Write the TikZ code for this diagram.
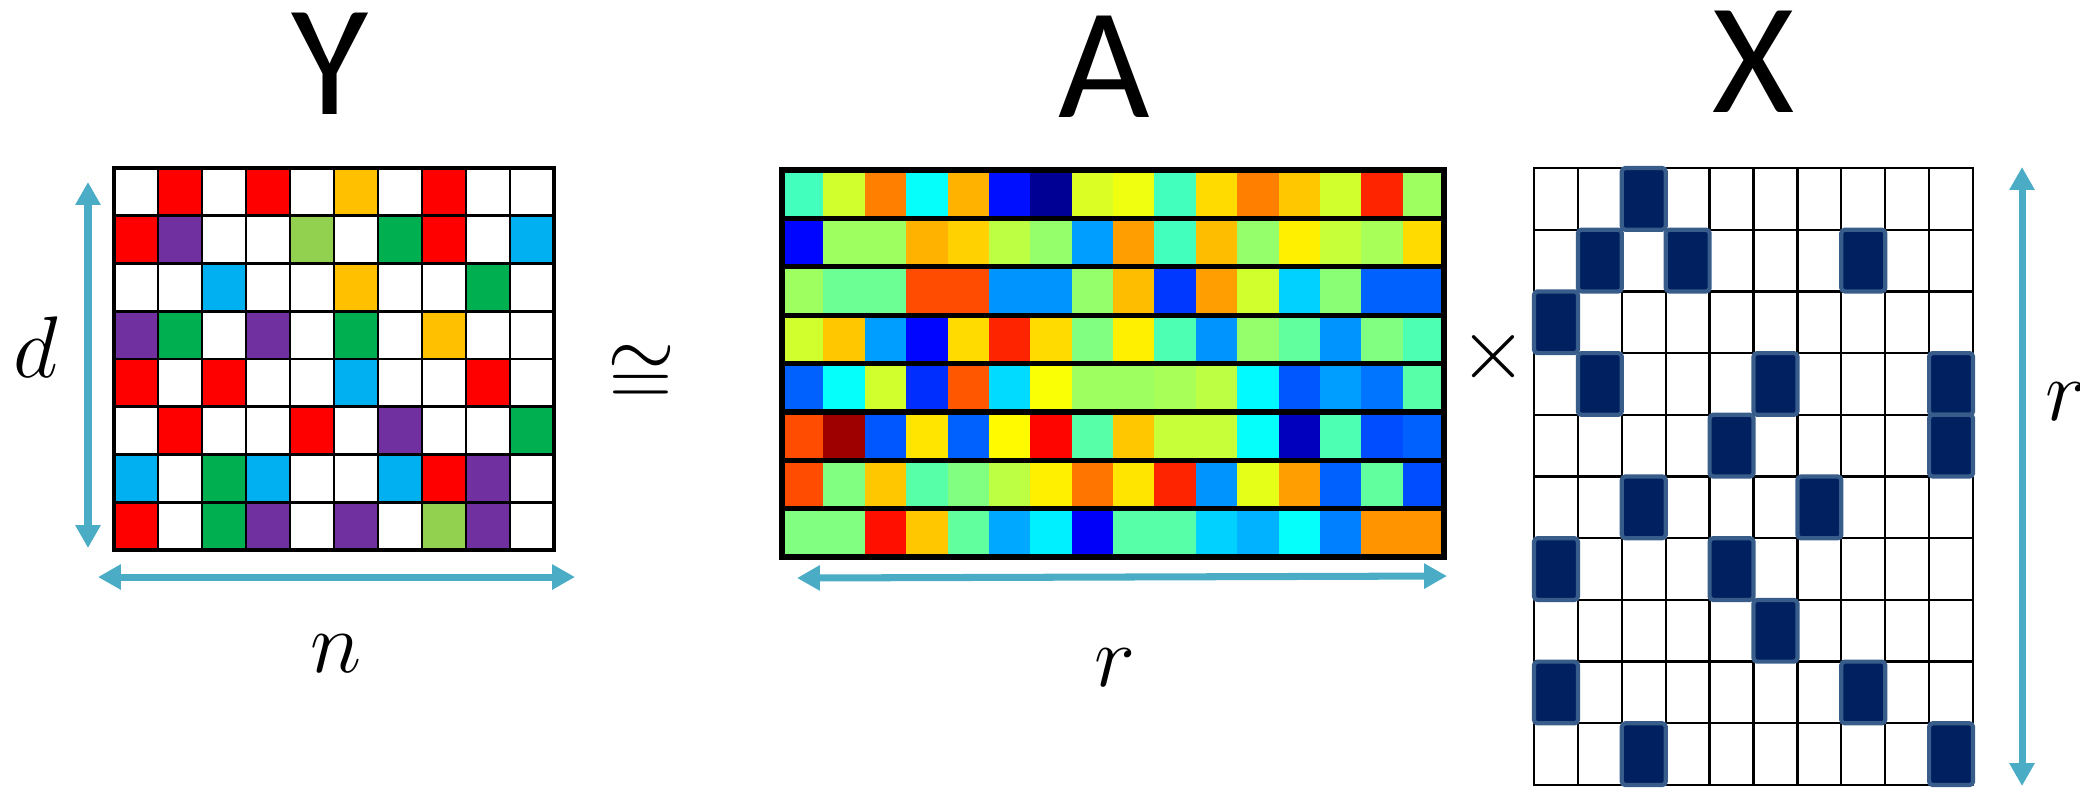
\documentclass[tikz,border=0pt]{standalone}
\usepackage{fontspec}
\newfontfamily\headfont{Carlito}
\usetikzlibrary{arrows.meta}
\definecolor{ink}{HTML}{000000}
\definecolor{arrowblue}{HTML}{4BACC6}
\definecolor{yw}{HTML}{FFFFFF}
\definecolor{yr}{HTML}{FF0000}
\definecolor{yp}{HTML}{7030A0}
\definecolor{yo}{HTML}{FFC000}
\definecolor{yl}{HTML}{92D050}
\definecolor{yg}{HTML}{00B050}
\definecolor{yb}{HTML}{00B0F0}
\definecolor{navy}{HTML}{002060}
\definecolor{navyedge}{HTML}{385D8A}
\tikzset{
  mattitle/.style={font=\headfont\fontsize{45}{50}\selectfont,anchor=base,inner sep=0pt,text=ink},
  dimlabel/.style={font=\fontsize{26}{30}\selectfont,inner sep=0pt,text=ink},
  opsign/.style={inner sep=0pt,text=ink},
  dimarrow/.style={{Triangle[width=6.8pt,length=6.5pt]}-{Triangle[width=6.8pt,length=6.5pt]},line width=2pt,draw=arrowblue},
  matframe/.style={draw=ink,inner sep=0pt,outer sep=0pt,anchor=north west},
  yline/.style={draw=ink,line width=.8pt},
  arow/.style={draw=ink,line width=1.5pt},
  xline/.style={draw=ink,line width=.65pt},
  xon/.style={fill=navy,draw=navyedge,line width=1.2pt,rounded corners=1pt}
}

\begin{document}
\begin{tikzpicture}[x=0.1mm,y=-0.1mm]
  \useasboundingbox (0,0) rectangle (2080,789);

  % Y: sparse coloured data matrix
  \foreach \rowcodes [count=\r from 0] in {
      {w,r,w,r,w,o,w,r,w,w},{r,p,w,w,l,w,g,r,w,b},{w,w,b,w,w,o,w,w,g,w},{p,g,w,p,w,g,w,o,w,w},
      {r,w,r,w,w,b,w,w,r,w},{w,r,w,w,r,w,p,w,w,g},{b,w,g,b,w,w,b,r,p,w},{r,w,g,p,w,p,w,l,p,w}}{
    \foreach \c [count=\k from 0] in \rowcodes{
      \fill[y\c] (114+44*\k,168+47.75*\r) rectangle ++(44,47.75);
    }}
  \foreach \k in {1,...,9} \draw[yline] (114+44*\k,168) -- ++(0,382);
  \foreach \r in {1,...,7} \draw[yline] (114,168+47.75*\r) -- ++(440,0);
  \node[matframe,line width=1pt,minimum width=44mm,minimum height=38.2mm] (Ymat) at (114,168) {};
  \node[mattitle] (Ytitle) at (330,114) {Y};

  % A: dictionary, jet colour values
  \foreach \vals [count=\r from 0] in {
      {0.44,0.58,0.75,0.38,0.70,0.14,0.02,0.59,0.61,0.44,0.66,0.75,0.68,0.58,0.84,0.53},
      {0.13,0.53,0.53,0.70,0.67,0.56,0.52,0.28,0.72,0.44,0.69,0.52,0.64,0.57,0.54,0.66},
      {0.53,0.48,0.48,0.80,0.80,0.27,0.27,0.52,0.69,0.18,0.72,0.58,0.33,0.51,0.22,0.22},
      {0.58,0.68,0.28,0.13,0.66,0.84,0.66,0.50,0.64,0.45,0.27,0.52,0.47,0.27,0.50,0.45},
      {0.22,0.38,0.58,0.17,0.79,0.34,0.62,0.53,0.53,0.54,0.56,0.37,0.21,0.28,0.24,0.46},
      {0.80,0.97,0.21,0.65,0.22,0.63,0.87,0.46,0.68,0.57,0.57,0.38,0.06,0.45,0.20,0.22},
      {0.80,0.50,0.68,0.46,0.50,0.56,0.64,0.76,0.65,0.84,0.27,0.60,0.72,0.22,0.47,0.20},
      {0.50,0.50,0.86,0.68,0.47,0.29,0.36,0.12,0.46,0.46,0.33,0.30,0.38,0.25,0.73,0.73}}{
    \foreach \v [count=\k from 0] in \vals{
      \pgfmathsetmacro\jr{max(0,min(1,1.5-abs(4*\v-3)))}
      \pgfmathsetmacro\jg{max(0,min(1,1.5-abs(4*\v-2)))}
      \pgfmathsetmacro\jb{max(0,min(1,1.5-abs(4*\v-1)))}
      \definecolor{jetcell}{rgb}{\jr,\jg,\jb}
      \fill[jetcell] (782+41.375*\k,170+48.375*\r) rectangle ++(41.7,48.375);
    }}
  \foreach \r in {1,...,7} \draw[arow] (782,170+48.375*\r) -- ++(662,0);
  \node[matframe,line width=1.5pt,minimum width=66.2mm,minimum height=38.7mm] (Amat) at (782,170) {};
  \node[mattitle] (Atitle) at (1104,117) {A};

  % X: sparse codes
  \foreach \k in {1,...,9} \draw[xline] (1534+43.9*\k,168) -- ++(0,617);
  \foreach \r in {1,...,9} \draw[xline] (1534,168+61.7*\r) -- ++(439,0);
  \node[matframe,line width=.8pt,minimum width=43.9mm,minimum height=61.7mm] (Xmat) at (1534,168) {};
  \foreach \c/\r in {3/1,2/2,4/2,8/2,1/3,2/4,6/4,10/4,5/5,10/5,3/6,7/6,1/7,5/7,6/8,1/9,8/9,3/10,10/10}
    \draw[xon] (1534+43.9*\c-43.9,168+61.7*\r-61.7) rectangle ++(43.9,61.7);
  \node[mattitle] (Xtitle) at (1754,112) {X};

  \node[opsign,font=\fontsize{23}{26}\selectfont] (approx) at (641,376) {$\cong$};
  \node[opsign,font=\fontsize{28}{30}\selectfont] (times) at (1493,357) {$\times$};

  % dimension arrows
  \coordinate (dTop) at (88,182);
  \coordinate (dBot) at (88,548);
  \coordinate (nLeft) at (98,577);
  \coordinate (nRight) at (575,577);
  \coordinate (rLeft) at (797,578);
  \coordinate (rRight) at (1447,576);
  \coordinate (xTop) at (2022,167);
  \coordinate (xBot) at (2022,786);
  \draw[dimarrow] (dTop) -- (dBot);
  \draw[dimarrow] (nLeft) -- (nRight);
  \draw[dimarrow] (rLeft) -- (rRight);
  \draw[dimarrow] (xTop) -- (xBot);
  \node[dimlabel,anchor=base] (dlab) at (36,377) {$d$};
  \node[dimlabel,anchor=base] (nlab) at (336,672) {$n$};
  \node[dimlabel,anchor=base] (rlabA) at (1115,686) {$r$};
  \node[dimlabel,anchor=base west] (rlabX) at (2045,420) {$r$};
\end{tikzpicture}
\end{document}
